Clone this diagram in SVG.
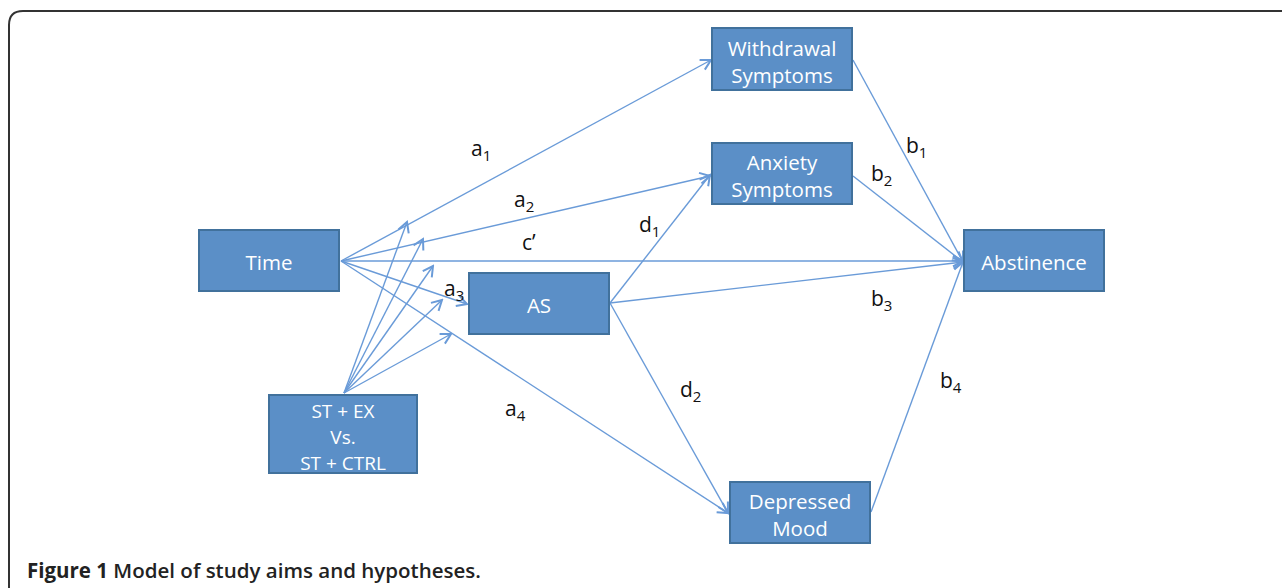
<svg xmlns="http://www.w3.org/2000/svg" width="1282" height="588" viewBox="0 0 1282 588">
<defs>
<style>
.box{fill:#5b8fc7;stroke:#41719c;stroke-width:2}
.nt{fill:#ffffff;font-family:"Open Sans","Liberation Sans",sans-serif;font-size:20.5px;text-anchor:middle}
.nt3{font-size:19px}
.lab{fill:#111;font-family:"Open Sans","Liberation Sans",sans-serif;font-size:21px}
.sub{font-size:15px}
.c{stroke:#6a9bd8;stroke-width:1.4;fill:none}
.cap{fill:#222;font-family:"Open Sans","Liberation Sans",sans-serif;font-size:20.5px;font-weight:bold}
</style>
<marker id="ah" markerUnits="userSpaceOnUse" markerWidth="14" markerHeight="14" viewBox="0 0 14 14" refX="12" refY="7" orient="auto">
<path d="M2,1.5 L12,7 L2,12.5" fill="none" stroke="#6a9bd8" stroke-width="2"/>
</marker>
</defs>
<rect width="1282" height="588" fill="#ffffff"/>
<path d="M9,588 L9,25 Q9,11 23,11 L1282,11" fill="none" stroke="#333" stroke-width="2"/>

<g id="connectors">
<line class="c" x1="341" y1="261" x2="711" y2="60" marker-end="url(#ah)"/>
<line class="c" x1="341" y1="261" x2="710" y2="176" marker-end="url(#ah)"/>
<line class="c" x1="341" y1="261" x2="963" y2="261" marker-end="url(#ah)"/>
<line class="c" x1="341" y1="261" x2="467" y2="304" marker-end="url(#ah)"/>
<line class="c" x1="341" y1="261" x2="728" y2="513" marker-end="url(#ah)"/>
<line class="c" x1="344" y1="393" x2="407" y2="222" marker-end="url(#ah)"/>
<line class="c" x1="344" y1="393" x2="423" y2="239" marker-end="url(#ah)"/>
<line class="c" x1="344" y1="393" x2="433" y2="266" marker-end="url(#ah)"/>
<line class="c" x1="344" y1="393" x2="442" y2="300" marker-end="url(#ah)"/>
<line class="c" x1="344" y1="393" x2="451" y2="334" marker-end="url(#ah)"/>
<line class="c" x1="610" y1="303" x2="710" y2="175" marker-end="url(#ah)"/>
<line class="c" x1="610" y1="303" x2="963" y2="262" marker-end="url(#ah)"/>
<line class="c" x1="610" y1="303" x2="728" y2="513" marker-end="url(#ah)"/>
<line class="c" x1="853" y1="60" x2="963" y2="262" marker-end="url(#ah)"/>
<line class="c" x1="853" y1="176" x2="963" y2="262" marker-end="url(#ah)"/>
<line class="c" x1="871" y1="512" x2="963" y2="262" marker-end="url(#ah)"/>
</g>

<g id="labels">
<text class="lab" x="471" y="156">a<tspan class="sub" dy="5">1</tspan></text>
<text class="lab" x="514" y="207">a<tspan class="sub" dy="5">2</tspan></text>
<text class="lab" x="522" y="250">c’</text>
<text class="lab" x="444" y="296">a<tspan class="sub" dy="5">3</tspan></text>
<text class="lab" x="505" y="416">a<tspan class="sub" dy="5">4</tspan></text>
<text class="lab" x="639" y="232">d<tspan class="sub" dy="5">1</tspan></text>
<text class="lab" x="680" y="397">d<tspan class="sub" dy="5">2</tspan></text>
<text class="lab" x="906" y="153">b<tspan class="sub" dy="5">1</tspan></text>
<text class="lab" x="871" y="181">b<tspan class="sub" dy="5">2</tspan></text>
<text class="lab" x="871" y="306">b<tspan class="sub" dy="5">3</tspan></text>
<text class="lab" x="940" y="388">b<tspan class="sub" dy="5">4</tspan></text>
</g>

<g id="time"><rect class="box" x="199" y="230" width="140" height="61"/><text class="nt" x="269" y="270">Time</text></g>
<g id="group"><rect class="box" x="269" y="395" width="148" height="78"/><text class="nt nt3" x="343" y="418">ST + EX</text><text class="nt nt3" x="343" y="444">Vs.</text><text class="nt nt3" x="343" y="470">ST + CTRL</text></g>
<g id="as"><rect class="box" x="469" y="273" width="140" height="61"/><text class="nt" x="539" y="313">AS</text></g>
<g id="withdrawal"><rect class="box" x="712" y="28" width="140" height="62"/><text class="nt" x="782" y="56">Withdrawal</text><text class="nt" x="782" y="83">Symptoms</text></g>
<g id="anxiety"><rect class="box" x="712" y="143" width="140" height="61"/><text class="nt" x="782" y="170">Anxiety</text><text class="nt" x="782" y="197">Symptoms</text></g>
<g id="abstinence"><rect class="box" x="964" y="230" width="140" height="61"/><text class="nt" x="1034" y="270">Abstinence</text></g>
<g id="depressed"><rect class="box" x="730" y="482" width="140" height="61"/><text class="nt" x="800" y="509">Depressed</text><text class="nt" x="800" y="536">Mood</text></g>

<text class="cap" x="27" y="578">Figure 1 <tspan font-weight="600">Model of study aims and hypotheses.</tspan></text>
</svg>
